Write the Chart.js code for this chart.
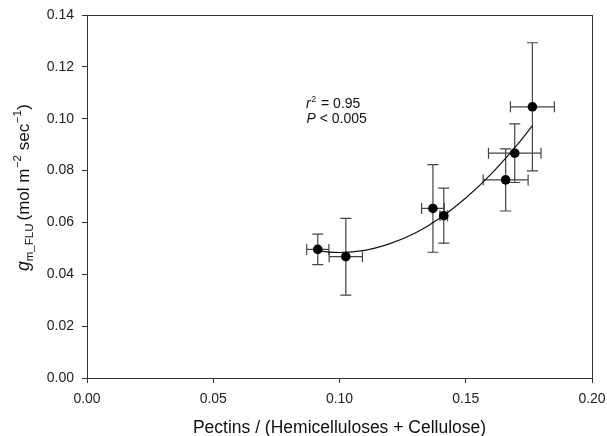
<!DOCTYPE html>
<html>
<head>
<meta charset="utf-8">
<script src="https://cdn.jsdelivr.net/npm/chart.js@4.4.0/dist/chart.umd.min.js"></script>
<style>
  body { margin: 0; background: #fff; }
  #wrap { width: 607px; height: 436px; }
</style>
</head>
<body>
<div id="wrap"><canvas id="gmChart" width="607" height="436"></canvas></div>
<script>
// valores
const pectinRatio = [0.0914, 0.1025, 0.1370, 0.1413, 0.1658, 0.1694, 0.1764];
const gmFlu       = [0.0496, 0.0468, 0.0654, 0.0626, 0.0764, 0.0867, 0.1046];
const ratioErr    = [0.0044, 0.0066, 0.0045, 0.0015, 0.0089, 0.0104, 0.0087];
const gmErr       = [0.0059, 0.0148, 0.0169, 0.0106, 0.0120, 0.0113, 0.0247];

// curva de ajuste
const fitX = [0.0914, 0.100, 0.110, 0.120, 0.130, 0.140, 0.150, 0.160, 0.170, 0.1764];
const fitY = [0.0490, 0.0484, 0.0492, 0.0518, 0.0559, 0.0618, 0.0694, 0.0786, 0.0895, 0.0973];

const statLines = ['= 0.95', '< 0.005'];
const xTitle = 'Pectins / (Hemicelluloses + Cellulose)';

const FONT = '"Liberation Sans", Arial, sans-serif';

const points = pectinRatio.map((x, i) => ({ x: x, y: gmFlu[i] }));
const curve = fitX.map((x, i) => ({ x: x, y: fitY[i] }));

// barras de error en x e y
const errorBars = {
    id: 'errorBars',
    beforeDatasetsDraw(chart) {
        const ctx = chart.ctx;
        const xs = chart.scales.x, ys = chart.scales.y;
        const cap = 5.5;
        ctx.save();
        ctx.strokeStyle = '#444';
        ctx.lineWidth = 1.2;
        pectinRatio.forEach((xv, i) => {
            const px = xs.getPixelForValue(xv);
            const py = ys.getPixelForValue(gmFlu[i]);
            const y1 = ys.getPixelForValue(gmFlu[i] + gmErr[i]);
            const y2 = ys.getPixelForValue(gmFlu[i] - gmErr[i]);
            const x1 = xs.getPixelForValue(xv - ratioErr[i]);
            const x2 = xs.getPixelForValue(xv + ratioErr[i]);
            ctx.beginPath();
            ctx.moveTo(px, y1); ctx.lineTo(px, y2);
            ctx.moveTo(px - cap, y1); ctx.lineTo(px + cap, y1);
            ctx.moveTo(px - cap, y2); ctx.lineTo(px + cap, y2);
            ctx.moveTo(x1, py); ctx.lineTo(x2, py);
            ctx.moveTo(x1, py - cap); ctx.lineTo(x1, py + cap);
            ctx.moveTo(x2, py - cap); ctx.lineTo(x2, py + cap);
            ctx.stroke();
        });
        ctx.restore();
    }
};

// dibuja un texto con partes (subindice, superindice)
function drawParts(ctx, parts, startX, baseY) {
    let x = startX;
    parts.forEach(p => {
        ctx.font = p.font;
        ctx.fillText(p.text, x, baseY + (p.dy || 0));
        x += ctx.measureText(p.text).width + (p.gap || 0);
    });
}
function partsWidth(ctx, parts) {
    let w = 0;
    parts.forEach(p => { ctx.font = p.font; w += ctx.measureText(p.text).width + (p.gap || 0); });
    return w;
}

const frameAndText = {
    id: 'frameAndText',
    afterDraw(chart) {
        const ctx = chart.ctx;
        const a = chart.chartArea;
        ctx.save();
        // marco completo
        ctx.strokeStyle = '#333';
        ctx.lineWidth = 1;
        ctx.strokeRect(Math.round(a.left) + 0.5, Math.round(a.top) + 0.5,
            Math.round(a.right - a.left), Math.round(a.bottom - a.top));

        ctx.fillStyle = '#111';
        ctx.textBaseline = 'alphabetic';
        ctx.textAlign = 'left';

        // r2 y P
        drawParts(ctx, [
            { text: 'r', font: 'italic 14px ' + FONT, gap: 0.5 },
            { text: '2', font: '9px ' + FONT, dy: -6, gap: 1 },
            { text: ' ' + statLines[0], font: '14px ' + FONT }
        ], 306, 107.5);
        drawParts(ctx, [
            { text: 'P', font: 'italic 14px ' + FONT },
            { text: ' ' + statLines[1], font: '14px ' + FONT }
        ], 306.5, 123);

        // titulo eje x
        ctx.font = '17.5px ' + FONT;
        ctx.textAlign = 'center';
        ctx.fillText(xTitle, (a.left + a.right) / 2, 433);

        // titulo eje y (rotado)
        ctx.textAlign = 'left';
        const yParts = [
            { text: 'g', font: 'italic 17.5px ' + FONT },
            { text: 'm_FLU', font: '11.5px ' + FONT, dy: 4, gap: 3 },
            { text: '(mol m', font: '17px ' + FONT, gap: 0.5 },
            { text: '\u22122', font: '11.5px ' + FONT, dy: -8 },
            { text: ' sec', font: '17px ' + FONT, gap: 0.5 },
            { text: '\u22121', font: '11.5px ' + FONT, dy: -8, gap: 0.5 },
            { text: ')', font: '17px ' + FONT }
        ];
        const w = partsWidth(ctx, yParts);
        ctx.translate(28.5, 187.5);
        ctx.rotate(-Math.PI / 2);
        drawParts(ctx, yParts, -w / 2, 0);
        ctx.restore();
    }
};

const ctxGm = document.getElementById('gmChart').getContext('2d');

new Chart(ctxGm, {
    type: 'scatter',
    data: {
        datasets: [{
            label: 'gm',
            data: points,
            backgroundColor: '#000',
            borderWidth: 0,
            pointRadius: 4.8
        }, {
            label: 'ajuste',
            data: curve,
            showLine: true,
            borderColor: '#111',
            borderWidth: 1.2,
            pointRadius: 0,
            cubicInterpolationMode: 'monotone',
            fill: false
        }]
    },
    options: {
        responsive: false,
        animation: false,
        layout: { padding: { left: 0, right: 15, top: 15, bottom: 0 } },
        plugins: {
            legend: { display: false },
            tooltip: { enabled: false }
        },
        scales: {
            x: {
                type: 'linear',
                min: 0,
                max: 0.2,
                afterFit: s => { s.height = 58; s.paddingLeft = 0; s.paddingRight = 0; },
                border: { display: false },
                grid: { drawOnChartArea: false, drawTicks: true, tickLength: 5, color: '#333' },
                ticks: {
                    stepSize: 0.05,
                    autoSkip: false,
                    maxRotation: 0,
                    padding: 8,
                    color: '#222',
                    font: { family: FONT, size: 14 },
                    callback: v => v.toFixed(2)
                }
            },
            y: {
                type: 'linear',
                min: 0,
                max: 0.14,
                afterFit: s => { s.width = 87; s.paddingTop = 0; s.paddingBottom = 0; },
                border: { display: false },
                grid: { drawOnChartArea: false, drawTicks: true, tickLength: 5, color: '#333' },
                ticks: {
                    stepSize: 0.02,
                    padding: 8,
                    color: '#222',
                    font: { family: FONT, size: 14 },
                    callback: v => v.toFixed(2)
                }
            }
        }
    },
    plugins: [errorBars, frameAndText]
});
</script>
</body>
</html>
